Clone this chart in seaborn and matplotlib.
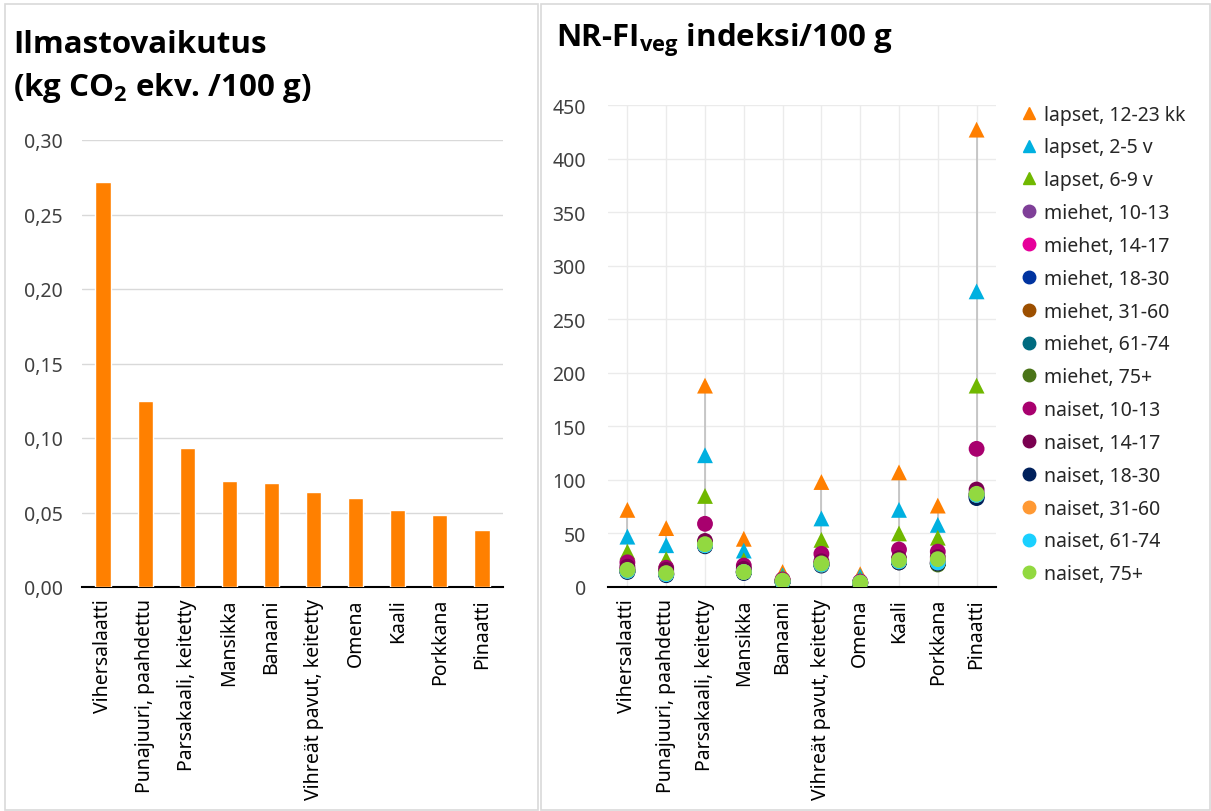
import matplotlib
matplotlib.use("Agg")
import matplotlib.pyplot as plt
import matplotlib.patches as mpatches
from matplotlib.lines import Line2D
from matplotlib.ticker import FuncFormatter, MultipleLocator
import numpy as np
import pandas as pd
import seaborn as sns

# --- data ---
ruoat = ["Vihersalaatti", "Punajuuri, paahdettu", "Parsakaali, keitetty", "Mansikka",
         "Banaani", "Vihreät pavut, keitetty", "Omena", "Kaali", "Porkkana", "Pinaatti"]

ilmasto = [0.272, 0.125, 0.093, 0.071, 0.070, 0.064, 0.060, 0.052, 0.048, 0.038]

ryhmat = ["lapset, 12-23 kk", "lapset, 2-5 v", "lapset, 6-9 v",
          "miehet, 10-13", "miehet, 14-17", "miehet, 18-30", "miehet, 31-60",
          "miehet, 61-74", "miehet, 75+",
          "naiset, 10-13", "naiset, 14-17", "naiset, 18-30", "naiset, 31-60",
          "naiset, 61-74", "naiset, 75+"]

lapset_12_23kk = [72, 55, 188, 45, 14, 98, 12, 107, 76, 427]
lapset_2_5v = [47, 39, 123, 34, 11, 64, 10, 72, 58, 276]
lapset_6_9v = [33, 26, 85, 25, 9, 44, 7, 50, 46, 188]
miehet_10_13 = [17, 14, 41, 15, 6, 22, 4, 25, 24, 88]
miehet_14_17 = [16, 13, 40, 14, 6, 22, 4, 24, 23, 86]
miehet_18_30 = [15, 12, 39, 14, 5, 21, 4, 23, 22, 84]
miehet_31_60 = [15, 12, 39, 14, 5, 21, 4, 23, 22, 85]
miehet_61_74 = [15, 12, 40, 14, 5, 21, 4, 24, 22, 86]
miehet_75 = [15, 12, 40, 14, 5, 21, 4, 24, 21, 86]
naiset_10_13 = [23, 18, 59, 20, 7, 31, 5, 35, 33, 129]
naiset_14_17 = [19, 16, 43, 17, 6, 24, 4, 27, 28, 91]
naiset_18_30 = [14, 11, 38, 13, 5, 20, 3, 23, 22, 83]
naiset_31_60 = [15, 12, 39, 14, 5, 21, 4, 24, 23, 86]
naiset_61_74 = [15, 12, 39, 14, 5, 21, 4, 24, 23, 86]
naiset_75 = [16, 13, 40, 14, 6, 22, 4, 25, 26, 87]

arvot = [lapset_12_23kk, lapset_2_5v, lapset_6_9v, miehet_10_13, miehet_14_17,
         miehet_18_30, miehet_31_60, miehet_61_74, miehet_75, naiset_10_13,
         naiset_14_17, naiset_18_30, naiset_31_60, naiset_61_74, naiset_75]

varit = ["#FF7F00", "#00B0E0", "#70B800", "#7F3F98", "#E6009A", "#0033A0", "#9C4F00",
         "#006B80", "#4A7418", "#A8006E", "#7A0050", "#00205B", "#FF9933", "#1AD0FF",
         "#92D940"]
merkit = ["^", "^", "^"] + ["o"] * 12

df_bar = pd.DataFrame({"ruoka": ruoat, "co2": ilmasto})
rivit = []
for r, vals in zip(ryhmat, arvot):
    for i, v in enumerate(vals):
        rivit.append({"ryhma": r, "x": i, "arvo": v})
df_nr = pd.DataFrame(rivit)

sns.set_style("white")
plt.rcParams["font.family"] = ["Noto Sans", "DejaVu Sans"]
plt.rcParams["mathtext.fontset"] = "custom"
plt.rcParams["mathtext.rm"] = "Open Sans:bold"
plt.rcParams["mathtext.it"] = "Open Sans:bold"
plt.rcParams["mathtext.bf"] = "Open Sans:bold"
plt.rcParams["mathtext.default"] = "bf"

W, H = 1211, 812
fig = plt.figure(figsize=(W / 100, H / 100), dpi=100)

def fx(px):
    return px / W

def fy(px):
    return 1 - px / H

# panel frames
fig.patches.append(mpatches.Rectangle((fx(5), fy(811)), fx(533), (806) / H, transform=fig.transFigure,
                                      fill=False, edgecolor="#D9D9D9", lw=1.2))
fig.patches.append(mpatches.Rectangle((fx(541), fy(811)), fx(669), (806) / H, transform=fig.transFigure,
                                      fill=False, edgecolor="#D9D9D9", lw=1.2))

grid_col = "#EBEBEB"
tick_col = "#404040"
fs = 14
otsikko = dict(fontsize=22.5, fontweight="bold", color="#000000", family="Open Sans")

# --- left: bars ---
ax1 = fig.add_axes([fx(82), fy(588), fx(503 - 82), (588 - 141) / H])
sns.barplot(data=df_bar, x="ruoka", y="co2", color="#FF8000", width=0.36, saturation=1, ax=ax1, zorder=3)
ax1.set_ylim(0, 0.30)
ax1.set_xlim(-0.5, 9.5)
ax1.yaxis.set_major_locator(MultipleLocator(0.05))
ax1.yaxis.set_major_formatter(FuncFormatter(lambda v, p: f"{v:.2f}".replace(".", ",")))
ax1.grid(axis="y", color="#D9D9D9", lw=1, zorder=0)
ax1.set_axisbelow(True)
ax1.set_xlabel("")
ax1.set_ylabel("")
for s in ["top", "right", "left"]:
    ax1.spines[s].set_visible(False)
ax1.spines["bottom"].set_color("#000000")
ax1.spines["bottom"].set_linewidth(1.5)
ax1.tick_params(axis="x", direction="out", length=5, width=1.2, color="#000000",
                labelrotation=90, labelsize=fs, labelcolor="#000000", pad=3)
ax1.tick_params(axis="y", length=0, labelsize=fs, labelcolor=tick_col, pad=14)

fig.text(fx(13), fy(53), "Ilmastovaikutus", **otsikko)
fig.text(fx(13), fy(96), r"(kg CO$_2$ ekv. /100 g)", **otsikko)

# --- right: dots ---
ax2 = fig.add_axes([fx(608), fy(588), fx(996 - 608), (588 - 106) / H])
mins = [min(a[i] for a in arvot) for i in range(len(ruoat))]
maxs = [max(a[i] for a in arvot) for i in range(len(ruoat))]
ax2.vlines(range(len(ruoat)), mins, maxs, color="#BFBFBF", lw=1.2, zorder=1)
sns.scatterplot(data=df_nr, x="x", y="arvo", hue="ryhma", style="ryhma",
                palette=dict(zip(ryhmat, varit)), markers=dict(zip(ryhmat, merkit)),
                hue_order=ryhmat, style_order=ryhmat, s=130, linewidth=0,
                legend=False, ax=ax2, zorder=3)
ax2.set_xlim(-0.5, 9.5)
ax2.set_ylim(0, 450)
ax2.yaxis.set_major_locator(MultipleLocator(50))
ax2.set_xticks(range(len(ruoat)))
ax2.set_xticklabels(ruoat)
ax2.grid(True, color=grid_col, lw=1, zorder=0)
ax2.set_axisbelow(True)
ax2.set_xlabel("")
ax2.set_ylabel("")
for s in ["top", "right", "left"]:
    ax2.spines[s].set_visible(False)
ax2.spines["bottom"].set_color("#000000")
ax2.spines["bottom"].set_linewidth(1.5)
ax2.tick_params(axis="x", direction="out", length=5, width=1.2, color="#000000",
                labelrotation=90, labelsize=fs, labelcolor="#000000", pad=3)
ax2.tick_params(axis="y", length=0, labelsize=fs, labelcolor=tick_col, pad=16)

fig.text(fx(556), fy(47), r"NR-FI$_{veg}$ indeksi/100 g", **otsikko)

handles = [Line2D([], [], linestyle="", marker=m, color=c, markersize=9)
           for m, c in zip(merkit, varit)]
fig.legend(handles, ryhmat, loc="upper left", bbox_to_anchor=(fx(999), fy(88)),
           frameon=False, fontsize=fs, handletextpad=0.1, labelspacing=0.66,
           handlelength=1.3, labelcolor="#262626")

fig.savefig("out.png", dpi=100)
